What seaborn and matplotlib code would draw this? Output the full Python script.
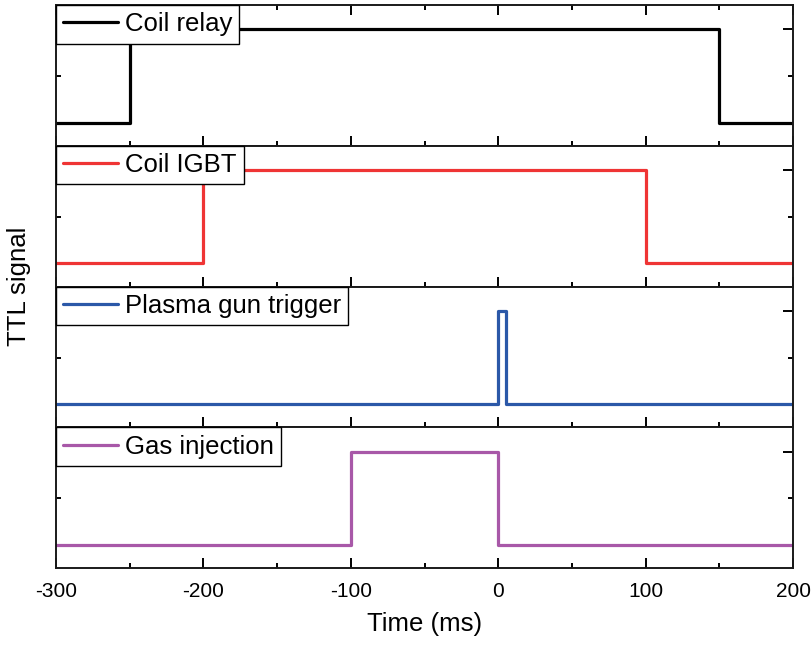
import matplotlib
matplotlib.use("Agg")
import matplotlib.pyplot as plt
import seaborn as sns
import pandas as pd
from matplotlib.ticker import MultipleLocator

sns.set_style("ticks")
plt.rcParams['font.family'] = ['Liberation Sans', 'DejaVu Sans']
plt.rcParams['axes.unicode_minus'] = False
plt.rcParams['text.color'] = 'black'
plt.rcParams['xtick.color'] = 'black'
plt.rcParams['ytick.color'] = 'black'
plt.rcParams['axes.labelcolor'] = 'black'

labels = ["Coil relay", "Coil IGBT", "Plasma gun trigger", "Gas injection"]
colors = ["#000000", "#ef3434", "#2b58a8", "#a858a8"]
relay_t = [-300, -250, 150, 200]
relay_v = [0, 1, 0, 0]
igbt_t = [-300, -200, 100, 200]
igbt_v = [0, 1, 0, 0]
gun_t = [-300, 0, 5, 200]
gun_v = [0, 1, 0, 0]
gas_t = [-300, -100, 0, 200]
gas_v = [0, 1, 0, 0]
series = [(relay_t, relay_v), (igbt_t, igbt_v), (gun_t, gun_v), (gas_t, gas_v)]

fig, axes = plt.subplots(4, 1, figsize=(8.11, 6.45), dpi=100, sharex=True)
fig.subplots_adjust(left=0.069, right=0.978, top=0.992, bottom=0.119, hspace=0)

for i, (ax, lab, col, (t, v)) in enumerate(zip(axes, labels, colors, series)):
    df = pd.DataFrame({"t": t, "v": v})
    sns.lineplot(data=df, x="t", y="v", ax=ax, color=col, lw=2.3,
                 drawstyle="steps-post", label=lab)
    ax.set_xlim(-300, 200)
    ax.set_ylim(-0.25, 1.26)
    ax.xaxis.set_major_locator(MultipleLocator(100))
    ax.xaxis.set_minor_locator(MultipleLocator(50))
    ax.yaxis.set_major_locator(MultipleLocator(1))
    ax.yaxis.set_minor_locator(MultipleLocator(0.5))
    top = (i == 0)
    ax.tick_params(which="major", direction="in", length=7, width=1.4,
                   top=top, right=True, labelleft=False, labelsize=15)
    ax.tick_params(which="minor", direction="in", length=3.5, width=1.4,
                   top=top, right=True)
    for s in ax.spines.values():
        s.set_linewidth(1.4)
        s.set_color("#1a1a1a")
    ax.set_ylabel("")
    ax.set_xlabel("")
    leg = ax.legend(loc="upper left", borderaxespad=0, fontsize=18.5,
                    handlelength=2.15, frameon=True, fancybox=False,
                    borderpad=0.28, handletextpad=0.25)
    leg.get_frame().set_edgecolor("black")
    leg.get_frame().set_linewidth(1.0)
    leg.get_frame().set_alpha(1)

axes[-1].set_xlabel("Time (ms)", fontsize=18.5, labelpad=8)
axes[-1].tick_params(axis="x", labelsize=15, pad=10)
fig.text(0.024, (0.992 + 0.119) / 2, "TTL signal", rotation=90,
         va="center", ha="center", fontsize=18.5)

fig.savefig("out.png", dpi=100)
